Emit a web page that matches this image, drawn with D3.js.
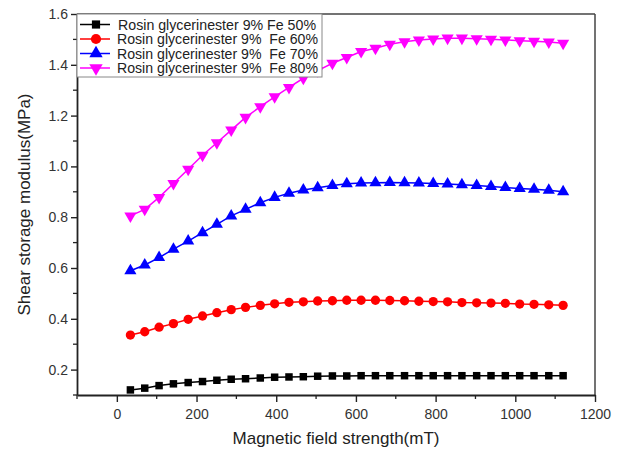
<!DOCTYPE html>
<html><head><meta charset="utf-8">
<script src="https://cdn.jsdelivr.net/npm/d3@7"></script>
<style>body{margin:0;background:#fff}svg{display:block;font-family:"Liberation Sans",Arial,sans-serif}text{white-space:pre}</style>
</head><body>
<svg id="c" width="629" height="457"></svg>
<script>
const fieldStrength = [34, 70, 106, 142, 179, 215, 251, 287, 323, 360, 396, 432, 468, 504, 541, 577, 613, 649, 685, 722, 758, 794, 830, 866, 903, 939, 975, 1011, 1047, 1084, 1120];
const fe50 = [0.120, 0.127, 0.137, 0.144, 0.149, 0.153, 0.158, 0.162, 0.164, 0.167, 0.170, 0.171, 0.172, 0.174, 0.175, 0.175, 0.176, 0.176, 0.176, 0.176, 0.176, 0.176, 0.176, 0.176, 0.176, 0.176, 0.176, 0.176, 0.176, 0.176, 0.176];
const fe60 = [0.336, 0.349, 0.367, 0.381, 0.398, 0.411, 0.424, 0.436, 0.445, 0.453, 0.459, 0.465, 0.467, 0.470, 0.471, 0.473, 0.473, 0.473, 0.472, 0.471, 0.469, 0.468, 0.467, 0.464, 0.463, 0.462, 0.461, 0.458, 0.457, 0.455, 0.453];
const fe70 = [0.589, 0.612, 0.641, 0.674, 0.706, 0.739, 0.772, 0.805, 0.831, 0.857, 0.878, 0.894, 0.907, 0.916, 0.925, 0.932, 0.935, 0.936, 0.937, 0.936, 0.935, 0.933, 0.931, 0.928, 0.925, 0.921, 0.917, 0.913, 0.910, 0.906, 0.900];
const fe80 = [0.805, 0.831, 0.878, 0.933, 0.989, 1.044, 1.093, 1.143, 1.193, 1.235, 1.274, 1.311, 1.347, 1.377, 1.406, 1.429, 1.452, 1.465, 1.481, 1.491, 1.498, 1.502, 1.505, 1.505, 1.503, 1.501, 1.498, 1.495, 1.493, 1.490, 1.485];
const seriesNames = ["Rosin glycerinester 9% Fe 50%", "Rosin glycerinester 9%  Fe 60%", "Rosin glycerinester 9%  Fe 70%", "Rosin glycerinester 9%  Fe 80%"];
const xTicks = [0, 200, 400, 600, 800, 1000, 1200];
const yTicks = [0.2, 0.4, 0.6, 0.8, 1.0, 1.2, 1.4, 1.6];
const xTitle = "Magnetic field strength(mT)";
const yTitle = "Shear storage modulus(MPa)";

const colors = ["#000000", "#ff0000", "#0000ff", "#ff00ff"];
const symbols = [d3.symbolSquare, d3.symbolCircle, d3.symbolTriangle, d3.symbolTriangle];
const symSizes = [56, 68, 64, 64];
const rot = [0, 0, 0, 180];
const allSeries = [fe50, fe60, fe70, fe80];

const L = 77, R = 595, T = 14, B = 395;
const svg = d3.select("#c");
const x = d3.scaleLinear().domain([-100, 1200]).range([L, R]);
const y = d3.scaleLinear().domain([0.1, 1.6]).range([B, T]);

// frame top/right
svg.append("line").attr("x1", L).attr("x2", R).attr("y1", T).attr("y2", T).attr("stroke", "#444").attr("stroke-width", 1.5);
svg.append("line").attr("x1", R).attr("x2", R).attr("y1", T).attr("y2", B).attr("stroke", "#444").attr("stroke-width", 1.5);

// minor ticks
const xMinor = [-100, 100, 300, 500, 700, 900, 1100];
const yMinor = [0.1, 0.3, 0.5, 0.7, 0.9, 1.1, 1.3, 1.5];
svg.append("g").selectAll("line").data(xMinor).join("line")
  .attr("x1", d => x(d)).attr("x2", d => x(d)).attr("y1", B).attr("y2", B + 4)
  .attr("stroke", "#222").attr("stroke-width", 1.3);
svg.append("g").selectAll("line").data(yMinor).join("line")
  .attr("y1", d => y(d)).attr("y2", d => y(d)).attr("x1", L).attr("x2", L - 4)
  .attr("stroke", "#222").attr("stroke-width", 1.3);

const xAxis = svg.append("g").attr("transform", `translate(0,${B})`)
  .call(d3.axisBottom(x).tickValues(xTicks).tickSize(7).tickSizeOuter(0).tickPadding(7).tickFormat(d3.format("d")));
const yAxis = svg.append("g").attr("transform", `translate(${L},0)`)
  .call(d3.axisLeft(y).tickValues(yTicks).tickSize(6).tickSizeOuter(0).tickPadding(3).tickFormat(d3.format(".1f")));
[xAxis, yAxis].forEach(g => {
  g.select(".domain").attr("stroke", "#222").attr("stroke-width", 1.8);
  g.selectAll(".tick line").attr("stroke", "#222").attr("stroke-width", 1.4);
  g.selectAll(".tick text").attr("font-size", 14).attr("fill", "#333").attr("font-family", "Liberation Sans, Arial, sans-serif");
});

// series
const line = d3.line().x((d, i) => x(fieldStrength[i])).y(d => y(d));
allSeries.forEach((s, k) => {
  svg.append("path").datum(s).attr("d", line).attr("fill", "none").attr("stroke", colors[k]).attr("stroke-width", 1.5);
  svg.append("g").selectAll("path").data(s).join("path")
    .attr("d", d3.symbol().type(symbols[k]).size(symSizes[k]))
    .attr("transform", (d, i) => `translate(${x(fieldStrength[i])},${y(d)}) rotate(${rot[k]})`)
    .attr("fill", colors[k]);
});

// legend
const lg = svg.append("g");
lg.append("rect").attr("x", L).attr("y", T).attr("width", 245).attr("height", 63)
  .attr("fill", "#fff").attr("stroke", "#888").attr("stroke-width", 1);
seriesNames.forEach((n, k) => {
  const yy = T + 10.5 + k * 14.5;
  lg.append("line").attr("x1", L + 3).attr("x2", L + 33).attr("y1", yy).attr("y2", yy).attr("stroke", colors[k]).attr("stroke-width", 1.5);
  lg.append("path").attr("d", d3.symbol().type(symbols[k]).size(symSizes[k] * 1.2)())
    .attr("transform", `translate(${L + 19},${yy}) rotate(${rot[k]})`).attr("fill", colors[k]);
  lg.append("text").attr("x", k === 0 ? L + 41 : L + 40).attr("y", yy + 5)
    .attr("textLength", k === 0 ? 198 : 201).attr("lengthAdjust", "spacingAndGlyphs")
    .attr("font-size", 14).attr("fill", "#222").text(n);
});

svg.append("text").attr("x", (L + R) / 2).attr("y", 444).attr("text-anchor", "middle")
  .attr("font-size", 17).attr("fill", "#222").text(xTitle);
svg.append("text").attr("transform", `translate(30,${(T + B) / 2}) rotate(-90)`).attr("text-anchor", "middle")
  .attr("font-size", 17).attr("fill", "#222").text(yTitle);
</script>
</body></html>
